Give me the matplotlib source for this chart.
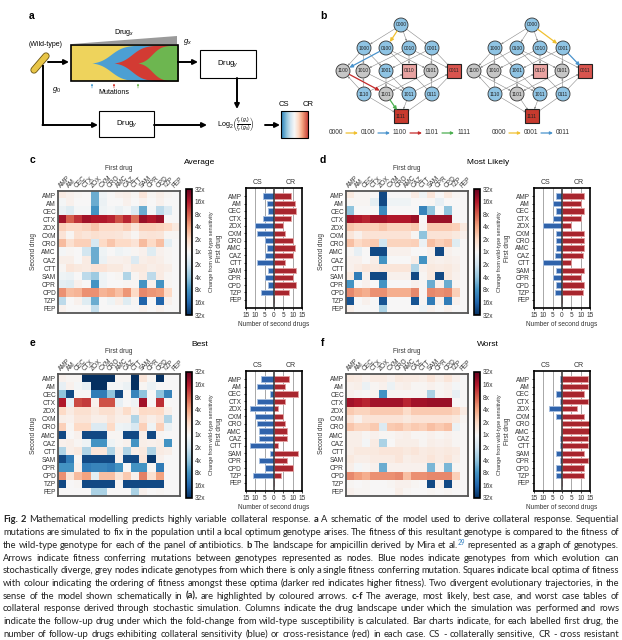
import numpy as np
import matplotlib
matplotlib.use('Agg')
import matplotlib.pyplot as plt
from matplotlib.patches import Rectangle, Circle, Polygon

plt.rcParams['font.family'] = ['Liberation Sans', 'DejaVu Sans']
plt.rcParams['mathtext.fontset'] = 'custom'
plt.rcParams['mathtext.rm'] = 'Liberation Sans'
plt.rcParams['mathtext.it'] = 'Liberation Sans:italic'

drugs = ['AMP', 'AM', 'CEC', 'CTX', 'ZOX', 'CXM', 'CRO', 'AMC', 'CAZ', 'CTT',
         'SAM', 'CPR', 'CPD', 'TZP', 'FEP']
fold_labels = ['32x', '16x', '8x', '4x', '2x', '1x', '2x', '4x', '8x', '16x', '32x']

# log2 fold change, rows = second drug, columns = first drug
heat_average = [
    [0.4, 0.2, 0.1, 0.0, -2.5, -0.2, 0.0, 0.2, 0.3, 0.1, 0.6, 0.1, 0.3, 0.1, 0.0],
    [-0.1, 0.2, 0.0, 0.0, -2.5, -0.3, 0.0, 0.0, 0.2, 0.0, 0.2, 0.0, 0.2, 0.0, 0.0],
    [-0.3, -0.6, -0.1, -0.1, -3.0, -0.2, -0.1, -0.3, -0.1, -0.7, -2.5, -0.1, -1.3, -0.7, 0.0],
    [4.2, 3.0, 3.6, 4.2, 4.0, 4.0, 3.8, 3.2, 3.8, 2.8, 4.3, 4.0, 4.3, 0.0, 0.0],
    [1.2, 1.0, 1.0, 1.1, 1.4, 1.0, 1.0, 0.9, 1.2, 0.6, 1.2, 1.2, 1.1, 1.0, 0.5],
    [0.7, 0.1, 0.8, 0.6, 0.8, 0.7, 0.7, 0.6, 0.4, 0.1, 0.6, 0.7, 0.6, 0.1, 0.1],
    [1.6, 0.8, 1.2, 1.2, -0.8, 1.0, 1.4, 1.0, 1.0, 0.7, 1.6, 1.0, 1.5, -0.5, 0.0],
    [-0.1, 0.1, 0.0, -0.9, -2.5, -0.2, 0.0, -0.2, -0.1, 0.1, 0.2, -0.6, 0.2, 0.1, 0.0],
    [0.3, 0.3, 0.0, 0.4, -2.5, -0.3, 0.2, 0.2, 0.3, -0.7, 0.3, 0.4, 0.3, 0.1, 0.0],
    [0.1, 0.6, 0.5, 0.4, 0.7, 0.7, 0.5, 0.5, 0.2, 0.5, 0.5, 0.3, 0.4, 0.3, 0.0],
    [-0.2, -0.3, 0.0, -1.3, -1.8, -0.2, 0.0, 0.1, -1.5, 0.1, 0.4, -1.3, 0.4, 0.1, 0.0],
    [-0.5, -0.6, 0.2, 0.0, -3.0, -0.2, 0.0, 0.0, 0.1, 0.1, -3.0, 0.2, -3.0, 0.1, 0.0],
    [2.3, 1.6, 1.7, 2.3, 2.3, 1.7, 1.9, 1.5, 2.2, 1.0, 2.4, 2.2, 2.1, 1.0, 0.0],
    [-1.3, 0.0, 0.2, -0.6, -2.5, 0.0, -0.2, 0.3, -0.6, 0.1, -4.0, 0.0, -4.0, 0.2, 0.0],
    [0.2, 0.0, 0.0, 0.0, -1.2, 0.0, 0.0, 0.0, 0.0, 0.0, 0.2, 0.0, 0.2, 0.0, 0.0],
]
heat_likely = [
    [0.5, 0.1, 0.1, 0.0, -4.5, 0.0, 0.0, 0.0, 0.4, -0.2, 0.6, 0.0, 0.5, 0.1, 0.0],
    [0.1, 0.1, 0.1, -0.5, -4.5, -0.2, -0.2, -0.2, 0.0, 0.0, 0.1, -0.4, 0.0, 0.0, 0.0],
    [-2.0, 0.0, 0.0, 0.0, -3.2, 0.0, 0.0, 0.0, 0.0, -3.3, -2.0, 0.0, -2.0, 0.0, 0.0],
    [4.2, 4.0, 3.8, 4.2, 4.2, 4.0, 4.0, 4.0, 4.3, 0.0, 4.3, 4.3, 4.3, 0.0, 0.0],
    [1.4, 1.2, 1.2, 1.2, 1.4, 1.1, 1.1, 1.1, 1.3, 0.1, 1.3, 1.3, 1.3, 1.2, 0.5],
    [0.6, 0.2, 0.7, 0.7, 0.7, 0.7, 0.7, 0.7, 0.1, -2.0, 0.7, 0.7, 0.7, 0.5, 0.2],
    [1.5, 1.0, 1.2, 1.3, -1.0, 1.1, 1.1, 1.1, 1.2, -0.3, 1.5, 1.2, 1.4, -0.6, 0.0],
    [0.1, -0.4, 0.0, -4.5, -4.5, 0.2, 0.2, 0.2, 0.0, 0.0, 0.2, -4.5, 0.2, 0.1, 0.0],
    [0.2, 0.2, 0.0, 0.3, -3.0, 0.0, 0.0, 0.0, 0.3, -3.0, 0.3, 0.2, 0.3, 0.2, 0.0],
    [0.2, 0.4, 0.6, 0.5, 0.6, 0.6, 0.6, 0.6, -1.5, 0.2, 0.5, 0.4, 0.5, 0.3, 0.0],
    [0.5, -3.5, 0.2, -4.5, -4.5, 0.2, 0.2, 0.2, -4.5, 0.1, 0.5, -4.5, 0.5, 0.2, 0.0],
    [-3.0, 0.0, 0.2, 0.0, -3.0, 0.0, 0.0, 0.0, 0.2, 0.1, -2.5, 0.2, -2.5, 0.1, 0.0],
    [2.4, 2.0, 1.8, 2.3, 2.3, 1.8, 1.8, 1.8, 2.4, 0.1, 2.4, 2.3, 2.4, 1.2, 0.0],
    [-4.3, 0.0, 0.2, 0.0, -4.3, 0.0, 0.0, 0.0, -4.3, 0.1, -3.5, 0.2, -3.5, 0.2, 0.0],
    [0.3, 0.0, 0.0, 0.0, -1.6, 0.0, 0.0, 0.0, 0.0, -0.2, 0.2, 0.0, 0.2, 0.0, 0.0],
]
heat_best = [
    [0.2, 0.1, 0.1, -5.0, -5.0, -5.0, -5.0, 0.1, 0.1, -5.0, 0.6, 0.1, -5.0, 0.0, 0.0],
    [-0.4, 0.2, -0.1, -0.4, -5.0, -5.0, -0.1, -0.1, -0.3, -5.0, 0.1, -0.3, 0.0, 0.0, 0.0],
    [-2.0, -4.5, 0.0, 0.0, -3.5, -3.5, -2.0, -4.5, 0.0, -3.3, -2.0, 0.0, -2.0, -3.3, 0.0],
    [4.0, -0.4, 3.3, 3.5, 0.2, 3.2, 3.2, -0.4, 0.0, -0.2, 4.2, 0.0, 3.7, 0.0, 0.0],
    [1.0, 0.4, 0.8, 0.8, 0.5, 0.8, 0.8, 0.4, 0.9, 0.3, 1.0, 0.9, 1.0, 0.3, 0.0],
    [0.3, 0.2, 0.6, 0.6, 0.3, 0.3, 0.6, 0.3, 0.3, -1.5, 0.6, 0.3, 0.6, -1.5, 0.0],
    [1.2, 0.1, 1.0, 1.0, -0.7, -0.7, 1.0, -0.2, -0.3, -0.8, 1.2, -0.2, 1.2, -0.3, 0.0],
    [-4.5, 0.0, 0.2, -4.5, -4.5, -4.5, 0.1, 0.1, -4.5, -4.5, 0.3, -4.5, 0.1, 0.0, 0.0],
    [0.2, 0.3, 0.1, -0.2, -3.0, -3.0, -0.2, 0.1, 0.2, -3.0, 0.3, 0.2, 0.3, -3.0, 0.0],
    [-1.5, 0.3, 0.5, -1.5, 0.6, 0.6, -1.5, 0.3, -1.5, 0.3, 0.5, -1.5, 0.4, 0.3, 0.0],
    [-4.5, -3.5, 0.1, -4.5, -4.5, -4.5, -4.5, 0.2, -4.5, -4.5, 0.6, -4.8, 0.2, 0.0, 0.0],
    [-3.0, -3.0, 0.2, -3.5, -3.3, -3.3, -3.5, -3.0, 0.0, -3.0, -3.0, 0.1, -3.5, 0.0, 0.0],
    [2.3, 0.6, 1.6, 2.0, -0.5, 1.5, 1.5, 0.6, 1.3, 0.2, 2.5, 0.8, 2.0, 0.0, 0.0],
    [-4.5, 0.0, 0.1, -4.5, -4.5, -4.5, -4.5, 0.1, -4.5, -4.5, -4.5, -4.5, -4.5, 0.0, 0.0],
    [0.0, 0.0, 0.0, 0.0, -1.6, -1.6, 0.0, 0.0, 0.0, -1.6, 0.2, 0.0, 0.1, 0.0, 0.0],
]
heat_worst = [
    [0.5, 0.4, 0.2, 0.4, 0.4, 0.2, 0.5, 0.4, 0.4, 0.3, 0.6, 0.3, 0.6, 0.2, 0.0],
    [0.2, 0.3, -0.3, 0.1, 0.2, -0.3, 0.2, 0.3, 0.1, 0.1, 0.2, 0.1, 0.2, -0.1, 0.0],
    [0.2, 0.1, 0.0, 0.2, -3.0, 0.1, 0.1, 0.1, 0.1, 0.1, -1.6, 0.1, 0.2, -0.4, 0.0],
    [4.2, 4.0, 3.8, 4.2, 4.2, 4.2, 4.2, 3.8, 4.2, 4.2, 4.3, 4.3, 4.3, 0.0, 0.0],
    [1.3, 1.1, 1.1, 1.3, 1.3, 1.3, 1.3, 0.9, 1.3, 1.3, 1.3, 1.3, 1.3, 1.1, 0.4],
    [0.7, 0.2, 0.7, 0.7, 0.7, 0.7, 0.7, 0.5, 0.7, 0.7, 0.7, 0.7, 0.7, 0.5, 0.1],
    [1.4, 1.1, 1.1, 1.3, -0.7, 1.3, 1.4, 1.1, 1.3, 1.2, 1.5, 1.3, 1.5, -0.3, 0.0],
    [0.3, 0.3, 0.1, 0.2, 0.1, 0.1, 0.2, 0.3, 0.1, 0.1, 0.2, 0.1, 0.2, 0.1, 0.0],
    [0.3, 0.3, -0.1, 0.4, -1.6, 0.0, 0.3, 0.3, 0.3, 0.1, 0.3, 0.2, 0.3, 0.1, 0.0],
    [0.3, 0.5, 0.5, 0.5, 0.6, 0.6, 0.6, 0.5, 0.6, 0.4, 0.5, 0.4, 0.5, 0.4, 0.0],
    [0.5, 0.3, 0.3, 0.4, 0.4, 0.4, 0.6, 0.3, 0.4, 0.4, 0.6, 0.4, 0.6, 0.3, 0.0],
    [0.3, -0.1, 0.1, 0.2, -2.5, 0.2, 0.2, 0.2, 0.2, 0.2, -2.3, 0.2, -2.3, 0.1, 0.0],
    [2.4, 2.1, 1.8, 2.3, 2.3, 2.3, 2.4, 1.5, 2.3, 2.3, 2.4, 2.4, 2.4, 1.2, 0.0],
    [0.1, 0.0, 0.1, 0.0, 0.0, 0.1, 0.2, 0.2, 0.1, 0.0, -4.5, 0.2, -4.5, 0.1, 0.0],
    [0.2, 0.1, 0.1, 0.0, 0.0, 0.0, 0.3, 0.1, 0.0, 0.0, 0.1, 0.0, 0.1, 0.0, 0.0],
]

# number of second drugs with CS / CR, per first drug
cs_average = [6, 4, 3, 6, 10, 9, 5, 4, 5, 9, 3, 5, 3, 7, 0]
cr_average = [9, 11, 12, 9, 5, 6, 10, 11, 10, 6, 12, 10, 12, 8, 0]
cs_likely = [3, 5, 3, 5, 10, 3, 3, 3, 4, 10, 3, 5, 3, 4, 0]
cr_likely = [12, 10, 12, 10, 5, 12, 12, 12, 11, 5, 12, 10, 12, 11, 0]
cs_best = [7, 9, 2, 9, 13, 10, 9, 8, 8, 13, 2, 8, 5, 11, 0]
cr_best = [8, 6, 13, 6, 2, 5, 6, 7, 7, 2, 13, 7, 10, 4, 0]
cs_worst = [1, 1, 3, 1, 7, 3, 0, 0, 1, 1, 3, 1, 3, 3, 0]
cr_worst = [14, 14, 12, 14, 8, 12, 15, 15, 14, 14, 12, 14, 12, 12, 0]

# ampicillin landscape (fitness rank of each genotype)
genotypes = ['0000', '1000', '0100', '0010', '0001', '1100', '1010', '1001',
             '0110', '0101', '0011', '1110', '1101', '1011', '0111', '1111']
fitness = [0, 2, 2, 2, 2, 5, 5.5, 4, 7, 5, 9, 3, 8, 6, 4, 10]
path_left = ['0000', '0100', '1100', '1101', '1111']
path_right = ['0000', '0001', '0011']

W, H = 622, 640
fig = plt.figure(figsize=(W / 100, H / 100), dpi=100)
bg = fig.add_axes([0, 0, 1, 1])
bg.axis('off')


def rect(x0, y0, x1, y1):
    return [x0 / W, 1 - y1 / H, (x1 - x0) / W, (y1 - y0) / H]


def arrow(x0, y0, x1, y1, color='k', lw=1.4, ms=7):
    bg.annotate('', xy=(x1, y1), xytext=(x0, y0),
                arrowprops=dict(arrowstyle='-|>', color=color, lw=lw,
                                mutation_scale=ms, shrinkA=0, shrinkB=0))


# ---------------- panel a ----------------
bg.text(32, 16, 'a', fontsize=7.5, fontweight='bold', ha='center', va='center')
bg.text(46, 45, '(Wild-type)', fontsize=5, ha='center', va='center')
bg.plot([34, 46], [70, 56], color='#6b5515', lw=5.2, solid_capstyle='round')
bg.plot([34, 46], [70, 56], color='#e8c547', lw=4.0, solid_capstyle='round')
arrow(48, 62, 69, 62)

mx0, mx1, my0, my1 = 71, 178, 45, 81
xs = np.linspace(mx0, mx1, 400)
mid, half = (my0 + my1) / 2, (my1 - my0) / 2


def clone(start, rise):
    p = 1 / (1 + np.exp(-(xs - start - rise) / (rise / 3)))
    p0 = 1 / (1 + np.exp(3))
    h = np.clip((p - p0) / (1 - p0), 0, 1)
    h[xs < start] = 0
    return h


bg.add_patch(Rectangle((mx0, my0), mx1 - mx0, my1 - my0, fc='#eed35c', ec='none'))
hb = clone(92, 19)
hr = np.minimum(clone(114, 18), hb)
hg = np.minimum(clone(138, 14), hr)
for h, c in [(hb, '#4c9fd3'), (hr, '#d23b33'), (hg, '#6db650')]:
    bg.fill_between(xs, mid - h * half, mid + h * half, color=c, lw=0)
bg.add_patch(Rectangle((mx0, my0), mx1 - mx0, my1 - my0, fc='none', ec='k', lw=1.2))
for mx, c in [(92, '#4c9fd3'), (114, '#d23b33'), (138, '#6db650')]:
    arrow(mx, 88, mx, 83.5, color=c, lw=0.5, ms=2.5)
bg.text(114, 93, 'Mutations', fontsize=5, ha='center', va='center')
bg.add_patch(Polygon([(72, 44), (177, 36), (177, 44)], fc='#9a9a9a', ec='none'))
bg.text(124, 32, r'Drug$_x$', fontsize=5.2, ha='center', va='center')
bg.text(188, 42, r'$g_x$', fontsize=5.5, ha='center', va='center')
arrow(178, 62, 198, 62)
bg.add_patch(Rectangle((200, 50), 56, 28, fc='white', ec='k', lw=0.8))
bg.text(228, 64, r'Drug$_y$', fontsize=5.5, ha='center', va='center')
arrow(237, 78, 237, 109)
bg.text(57, 90, r'$g_0$', fontsize=5.5, ha='center', va='center')
bg.plot([43, 43], [66, 125], 'k', lw=1.4)
arrow(42.5, 125, 98, 125)
bg.add_patch(Rectangle((99, 111), 55, 26, fc='white', ec='k', lw=0.8))
bg.text(126.5, 124, r'Drug$_y$', fontsize=5.5, ha='center', va='center')
arrow(154, 125, 207, 125)
bg.text(236, 125, r'Log$_2\left(\frac{f_y\,(g_x)}{f_y\,(g_0)}\right)$', fontsize=5.2,
        ha='center', va='center')
arrow(265, 125, 280, 125)
bg.imshow(np.linspace(-1, 1, 120)[None, :], extent=(281, 308, 138, 111),
          cmap='RdBu_r', vmin=-1.45, vmax=1.45, aspect='auto', zorder=2)
bg.add_patch(Rectangle((281, 111), 27, 27, fc='none', ec='k', lw=0.8, zorder=3))
bg.text(284, 105, 'CS', fontsize=5.5, ha='center', va='center')
bg.text(308, 105, 'CR', fontsize=5.5, ha='center', va='center')

# ---------------- panel b ----------------
bg.text(323, 16, 'b', fontsize=7.5, fontweight='bold', ha='center', va='center')
row_y = [25, 48, 71, 94, 116]
row_x = {1: [-37, -15, 8, 31], 2: [-58, -38, -15, 8, 30, 53], 3: [-37, -15, 8, 31]}
fit = dict(zip(genotypes, fitness))
pos = {}
counts = {}
for g in genotypes:
    k = g.count('1')
    i = counts.get(k, 0)
    counts[k] = i + 1
    pos[g] = (row_x[k][i] if k in row_x else 0, row_y[k])


def neighbours(g):
    return [o for o in genotypes if sum(a != b for a, b in zip(g, o)) == 1]


optima = sorted([g for g in genotypes if all(fit[o] < fit[g] for o in neighbours(g))],
                key=lambda g: fit[g])
opt_cols = ['#e9a3a1', '#d9544e', '#c73a2e']
path_cols = ['#f0c030', '#4a93cc', '#c42a2a', '#4caf50']


def landscape(cx, path):
    steps = {(path[i], path[i + 1]): path_cols[i] for i in range(len(path) - 1)}
    for g in genotypes:
        for o in neighbours(g):
            if fit[o] > fit[g]:
                x0, y0 = pos[g][0] + cx, pos[g][1]
                x1, y1 = pos[o][0] + cx, pos[o][1]
                c = steps.get((g, o))
                if c is None:
                    bg.annotate('', xy=(x1, y1), xytext=(x0, y0),
                                arrowprops=dict(arrowstyle='-|>', color='#8a8a8a', lw=0.4,
                                                mutation_scale=2.5, shrinkA=5.2, shrinkB=5.2),
                                zorder=1)
                else:
                    bg.annotate('', xy=(x1, y1), xytext=(x0, y0),
                                arrowprops=dict(arrowstyle='-|>', color=c, lw=0.9,
                                                mutation_scale=5, shrinkA=5.2, shrinkB=5.2),
                                zorder=4)
    for g in genotypes:
        x, y = pos[g][0] + cx, pos[g][1]
        up = sum(fit[o] > fit[g] for o in neighbours(g))
        if g in optima:
            bg.add_patch(Rectangle((x - 7, y - 7), 14, 14, fc=opt_cols[optima.index(g)],
                                   ec='#222222', lw=0.8, zorder=3))
        else:
            fc = '#c6c6c6' if up == 1 else '#8fc4e4'
            bg.add_patch(Circle((x, y), 7, fc=fc, ec='#333333', lw=0.6, zorder=3))
        bg.text(x, y, g, fontsize=3.5, ha='center', va='center', color='#222222', zorder=5)


landscape(401, path_left)
landscape(532, path_right)


def path_legend(x0, path):
    x = x0
    for i, g in enumerate(path):
        bg.text(x, 133, g, fontsize=4.8, ha='center', va='center', color='#333333')
        if i < len(path) - 1:
            arrow(x + 10, 133, x + 22, 133, color=path_cols[i], lw=0.9, ms=4)
        x += 32


path_legend(336, path_left)
path_legend(499, path_right)


# ---------------- panels c-f ----------------
cmap = plt.get_cmap('RdBu_r')


def heat_panel(dx, dy, data, cs, cr, letter, title):
    bg.text(32 + dx - (0 if dx == 0 else -3), 160 + dy, letter, fontsize=7.5,
            fontweight='bold', ha='center', va='center')
    bg.text(200 + dx, 162 + dy, title, fontsize=6, ha='center', va='center')
    ax = fig.add_axes(rect(58 + dx, 191 + dy, 180 + dx, 313 + dy))
    im = ax.imshow(np.array(data), cmap=cmap, vmin=-5, vmax=5, aspect='auto',
                   interpolation='nearest')
    ax.set_xticks(range(len(drugs)))
    ax.set_yticks(range(len(drugs)))
    ax.set_yticklabels(drugs, fontsize=4.7, color='#333333')
    ax.xaxis.tick_top()
    ax.set_xticklabels(drugs, fontsize=4.7, rotation=45, ha='left', va='bottom',
                       rotation_mode='anchor', color='#333333')
    ax.tick_params(length=0, pad=1.5)
    for s in ax.spines.values():
        s.set_linewidth(1.3)
        s.set_color('#555555')
    ax.xaxis.set_label_position('top')
    ax.set_xlabel('First drug', fontsize=4.7, labelpad=3, color='#333333')
    ax.set_ylabel('Second drug', fontsize=4.7, labelpad=3, color='#333333')

    cax = fig.add_axes(rect(186 + dx, 189 + dy, 192 + dx, 315 + dy))
    cb = fig.colorbar(im, cax=cax, ticks=range(-5, 6))
    cb.ax.set_yticklabels(fold_labels, fontsize=4.7, color='#333333')
    cb.ax.tick_params(length=0, pad=2)
    cb.outline.set_linewidth(1.2)
    cb.set_label('Change from wild-type sensitivity', fontsize=4, labelpad=3, color='#333333')

    bx = fig.add_axes(rect(246 + dx, 188 + dy, 302 + dx, 308 + dy))
    y = np.arange(len(drugs))
    bx.barh(y, -np.array(cs), height=0.72, color='#2f63ab', edgecolor='#a6bfe1', lw=0.6)
    bx.barh(y, cr, height=0.72, color='#a8262e', edgecolor='#e3a0a0', lw=0.6)
    for v in [-10, -5, 5, 10]:
        bx.axvline(v, color='#9a9a9a', lw=0.6, zorder=0)
    bx.axvline(0, color='#333333', lw=1.1, zorder=3)
    bx.set_xlim(-15, 15)
    bx.set_ylim(15.1, -1.1)
    bx.set_yticks(y)
    bx.set_yticklabels(drugs, fontsize=4.7, color='#333333')
    bx.set_xticks(range(-15, 16, 5))
    bx.set_xticklabels([str(abs(v)) for v in range(-15, 16, 5)], fontsize=4.7, color='#333333')
    bx.tick_params(length=1.5, width=0.5, pad=1.5)
    for s in bx.spines.values():
        s.set_linewidth(1.2)
    bx.set_xlabel('Number of second drugs', fontsize=4.7, labelpad=1.5, color='#333333')
    bx.set_ylabel('First drug', fontsize=4.7, labelpad=3, color='#333333')
    bx.text(-9, 1.015, 'CS', fontsize=5, ha='center', va='bottom',
            transform=bx.get_xaxis_transform(), color='#333333')
    bx.text(9, 1.015, 'CR', fontsize=5, ha='center', va='bottom',
            transform=bx.get_xaxis_transform(), color='#333333')


heat_panel(0, 0, heat_average, cs_average, cr_average, 'c', 'Average')
heat_panel(288, 0, heat_likely, cs_likely, cr_likely, 'd', 'Most Likely')
heat_panel(0, 183, heat_best, cs_best, cr_best, 'e', 'Best')
heat_panel(288, 183, heat_worst, cs_worst, cr_worst, 'f', 'Worst')

# ---------------- caption ----------------
caption = [
    "*Fig. *2 Mathematical modelling predicts highly variable collateral response. *a A schematic of the model used to derive collateral response. Sequential",
    "mutations are simulated to fix in the population until a local optimum genotype arises. The fitness of this resultant genotype is compared to the fitness of",
    "the wild-type genotype for each of the panel of antibiotics. *b The landscape for ampicillin derived by Mira et al.^29 represented as a graph of genotypes.",
    "Arrows indicate fitness conferring mutations between genotypes represented as nodes. Blue nodes indicate genotypes from which evolution can",
    "stochastically diverge, grey nodes indicate genotypes from which there is only a single fitness conferring mutation. Squares indicate local optima of fitness",
    "with colour indicating the ordering of fitness amongst these optima (darker red indicates higher fitness). Two divergent evolutionary trajectories, in the",
    "sense of the model shown schematically in *(a), are highlighted by coloured arrows. *c-f The average, most likely, best case, and worst case tables of",
    "collateral response derived through stochastic simulation. Columns indicate the drug landscape under which the simulation was performed and rows",
    "indicate the follow-up drug under which the fold-change from wild-type susceptibility is calculated. Bar charts indicate, for each labelled first drug, the",
    "number of follow-up drugs exhibiting collateral sensitivity (blue) or cross-resistance (red) in each case. CS - collaterally sensitive, CR - cross resistant",
]
cap_family = ['Lato', 'DejaVu Sans']
renderer = fig.canvas.get_renderer()


def text_width(s, **kw):
    t = bg.text(0, 0, s, **kw)
    w = t.get_window_extent(renderer).width
    t.remove()
    return w


def split_words(line, size):
    words = []
    for tok in line.split(' '):
        bold = tok.startswith('*')
        tok = tok.lstrip('*')
        sup = None
        if '^' in tok:
            tok, sup = tok.split('^')
        kw = dict(family=cap_family, fontsize=size, color='#222222',
                  fontweight='bold' if bold else 'normal')
        w = text_width(tok, **kw)
        ws = text_width(sup, family=cap_family, fontsize=size * 0.7) if sup else 0
        words.append((tok, kw, w, sup, ws))
    return words


left, right = 3, 619
base = 6.0
space0 = text_width('a a', family=cap_family, fontsize=base) - text_width('aa', family=cap_family, fontsize=base)
natural = []
for line in caption:
    ws = split_words(line, base)
    natural.append(sum(w[2] + w[4] for w in ws) + space0 * (len(ws) - 1))
# size chosen so a typical full line fits with ordinary word spacing
cap_size = base * (right - left) / float(np.median(natural))
space = space0 * cap_size / base

for i, line in enumerate(caption):
    yy = 520 + i * 12.7
    words = split_words(line, cap_size)
    total = sum(w[2] + w[4] for w in words)
    gap = (right - left - total) / (len(words) - 1)
    if total + space * (len(words) - 1) < 0.95 * (right - left):
        gap = space
    x = left
    for tok, kw, w, sup, ws in words:
        bg.text(x, yy, tok, ha='left', va='center', **kw)
        if sup:
            bg.text(x + w, yy - 2.5, sup, ha='left', va='center', fontsize=cap_size * 0.7,
                    family=cap_family, color='#2f7fc1')
        x += w + ws + gap

bg.set_xlim(0, W)
bg.set_ylim(H, 0)
bg.set_aspect('auto')
fig.savefig('out.png', dpi=100)
